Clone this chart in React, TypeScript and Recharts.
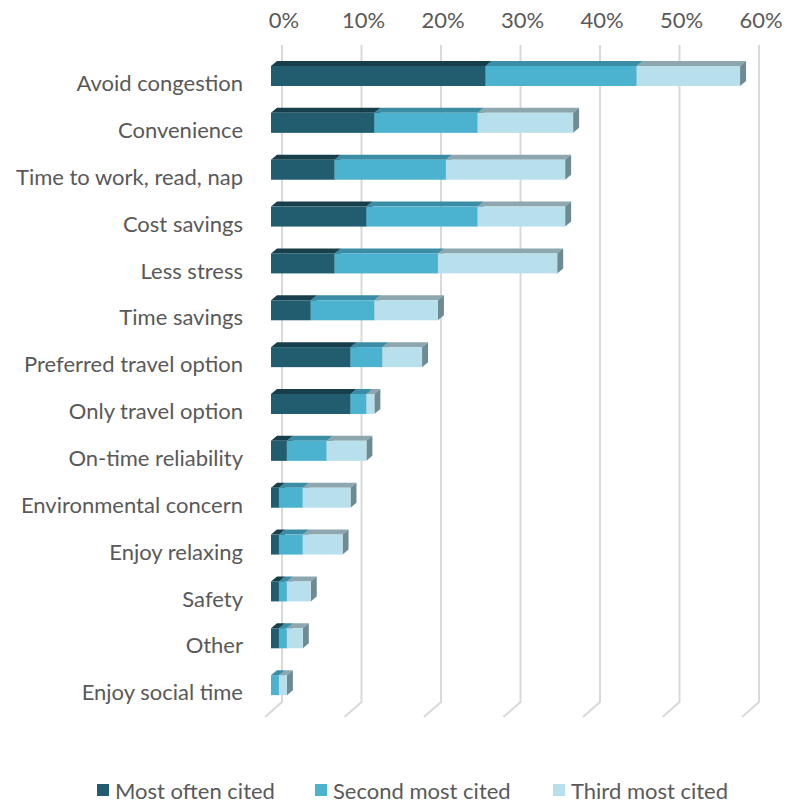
import { BarChart, Bar, XAxis, YAxis, CartesianGrid, Legend } from "recharts";

const categories = [
  "Avoid congestion",
  "Convenience",
  "Time to work, read, nap",
  "Cost savings",
  "Less stress",
  "Time savings",
  "Preferred travel option",
  "Only travel option ",
  "On-time reliability",
  "Environmental concern",
  "Enjoy relaxing",
  "Safety",
  "Other",
  "Enjoy social time",
];

const mostOften = [27, 13, 8, 12, 8, 5, 10, 10, 2, 1, 1, 1, 1, 0];
const secondMost = [19, 13, 14, 14, 13, 8, 4, 2, 5, 3, 3, 1, 1, 1];
const thirdMost = [13, 12, 15, 11, 15, 8, 5, 1, 5, 6, 5, 3, 2, 1];

const xTicks = [0, 10, 20, 30, 40, 50, 60];

const data = categories.map((name, i) => ({
  name,
  most: mostOften[i],
  second: secondMost[i],
  third: thirdMost[i],
}));

const series = [
  { key: "most", label: "Most often cited", front: "#215D6E", top: "#173F4B", side: "#1A4B59" },
  { key: "second", label: "Second most cited", front: "#4BB2D0", top: "#3A8DA5", side: "#3E8FA6" },
  { key: "third", label: "Third most cited", front: "#B8E0EC", top: "#8EA7AE", side: "#6E8B93" },
];

const FONT = "Lato, 'Open Sans', sans-serif";
const DX = 6;
const DY = 5;
const LIFT = 7;

// front face + top face + right side face, lifted a bit above the band centre
const bar3d = (top: string, side: string) => (props: any) => {
  const { x, y, width, height, fill } = props;
  if (!width || width <= 0) return <g />;
  const fy = y - LIFT;
  const r = x + width;
  return (
    <g>
      <polygon
        points={`${x},${fy} ${x + DX},${fy - DY} ${r + DX},${fy - DY} ${r},${fy}`}
        fill={top}
      />
      <polygon
        points={`${r},${fy} ${r + DX},${fy - DY} ${r + DX},${fy + height - DY} ${r},${fy + height}`}
        fill={side}
      />
      <rect x={x} y={fy} width={width} height={height} fill={fill} />
    </g>
  );
};

const gridLine = (p: any) => (
  <polyline
    key={p.key}
    points={`${p.x1 + 11},${p.y1 - 15} ${p.x1 + 11},${p.y2 - 14} ${p.x1 - 6},${p.y2 + 1}`}
    fill="none"
    stroke="#D9D9D9"
    strokeWidth={2}
  />
);

const XTick = ({ x, payload }: any) => (
  <text x={x + 13} y={28} textAnchor="middle" fill="#595959" fontSize={22} fontFamily={FONT}>
    {`${payload.value}%`}
  </text>
);

const YTick = ({ y, payload }: any) => (
  <text x={243} y={y} dy="0.35em" textAnchor="end" fill="#595959" fontSize={22} fontFamily={FONT}>
    {payload.value}
  </text>
);

const legendWidths = [218, 238, 200];

const LegendBox = () => (
  <div style={{ display: "flex", paddingLeft: 97, height: 30, alignItems: "center", fontFamily: FONT }}>
    {series.map((s, i) => (
      <div key={s.key} style={{ width: legendWidths[i], display: "flex", alignItems: "center" }}>
        <span style={{ width: 12, height: 12, background: s.front, display: "inline-block", marginRight: 6 }} />
        <span style={{ fontSize: 22, color: "#595959", whiteSpace: "nowrap" }}>{s.label}</span>
      </div>
    ))}
  </div>
);

export default function App() {
  return (
    <div style={{ position: "absolute", left: 0, top: 0, background: "#fff" }}>
      <BarChart
        width={787}
        height={805}
        data={data}
        layout="vertical"
        margin={{ top: 20, right: 39, bottom: 59, left: 0 }}
        barSize={20}
      >
        <CartesianGrid horizontal={false} vertical={gridLine} />
        <XAxis
          type="number"
          orientation="top"
          domain={[0, 60]}
          ticks={xTicks}
          axisLine={false}
          tickLine={false}
          height={40}
          tick={<XTick />}
        />
        <YAxis
          type="category"
          dataKey="name"
          width={271}
          axisLine={false}
          tickLine={false}
          interval={0}
          tick={<YTick />}
        />
        <Legend
          verticalAlign="bottom"
          content={<LegendBox />}
          wrapperStyle={{ bottom: 0, left: 0, width: 787, height: 30 }}
        />
        {series.map((s) => (
          <Bar
            key={s.key}
            dataKey={s.key}
            stackId="a"
            fill={s.front}
            shape={bar3d(s.top, s.side)}
            isAnimationActive={false}
          />
        ))}
      </BarChart>
    </div>
  );
}
